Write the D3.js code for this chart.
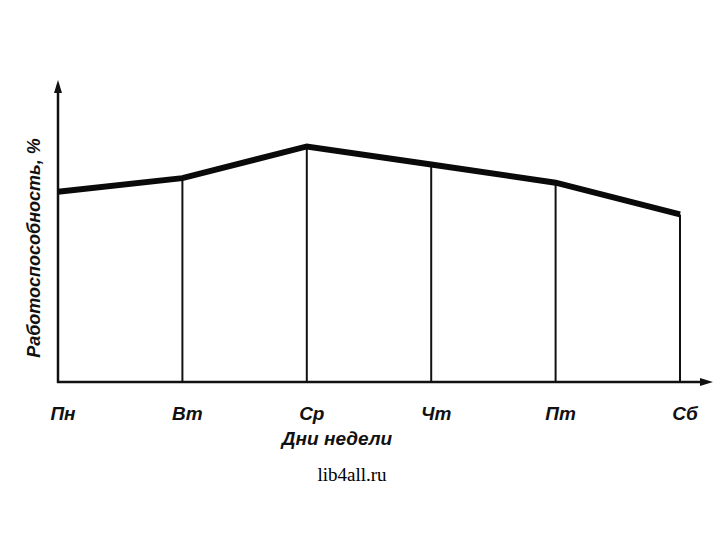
<!DOCTYPE html>
<html><head><meta charset="utf-8">
<script src="https://cdn.jsdelivr.net/npm/d3@7"></script>
<style>body{margin:0;background:#fff}</style>
</head><body>
<script>
const days = ["Пн","Вт","Ср","Чт","Пт","Сб"];
const performance = [63, 67.5, 78, 72, 66, 55.5];
const xTitle = "Дни недели";
const yTitle = "Работоспособность, %";
const watermark = "lib4all.ru";

const W = 720, H = 540;
const svg = d3.select("body").append("svg").attr("width", W).attr("height", H);
const x0 = 58, x1 = 680, yBase = 382, yTop = 80;
const x = d3.scalePoint().domain(days).range([x0, x1]);
const y = d3.scaleLinear().domain([0, 100]).range([yBase, yTop]);
const font = "Liberation Sans, Arial, sans-serif";

// axes
const g = svg.append("g").attr("stroke", "#111").attr("fill", "none");
g.append("line").attr("x1", x0).attr("x2", x0).attr("y1", yBase + 1).attr("y2", yTop + 8).attr("stroke-width", 2.5);
g.append("line").attr("x1", x0 - 1).attr("x2", 704).attr("y1", yBase).attr("y2", yBase).attr("stroke-width", 2.5);
svg.append("path").attr("d", `M${x0},${yTop} L${x0-4},${yTop+13} L${x0+4},${yTop+13} Z`).attr("fill", "#111");
svg.append("path").attr("d", `M713,${yBase} L700,${yBase-4} L700,${yBase+4} Z`).attr("fill", "#111");

// vertical drop lines
svg.append("g").selectAll("line").data(days.slice(1)).join("line")
  .attr("x1", d => x(d)).attr("x2", d => x(d))
  .attr("y1", (d, i) => y(performance[i + 1])).attr("y2", yBase)
  .attr("stroke", "#111").attr("stroke-width", 2);

// main line
const line = d3.line().x((d, i) => x(days[i])).y(d => y(d));
svg.append("path").datum(performance).attr("d", line)
  .attr("fill", "none").attr("stroke", "#0a0a0a").attr("stroke-width", 6)
  .attr("stroke-linejoin", "miter");

// tick labels
svg.append("g").selectAll("text").data(days).join("text")
  .attr("x", d => x(d) + 5).attr("y", 420)
  .attr("text-anchor", "middle")
  .attr("font-family", font).attr("font-weight", "bold")
  .attr("font-style", "italic").attr("font-size", 19).attr("fill", "#111")
  .text(d => d);

svg.append("text").attr("x", 337).attr("y", 445).attr("text-anchor", "middle")
  .attr("font-family", font).attr("font-weight", "bold")
  .attr("font-style", "italic").attr("font-size", 19).attr("fill", "#111")
  .text(xTitle);

svg.append("text").attr("transform", "translate(40,248) rotate(-90)")
  .attr("text-anchor", "middle")
  .attr("font-family", font).attr("font-weight", "bold")
  .attr("font-style", "italic").attr("font-size", 18).attr("fill", "#111")
  .text(yTitle);

svg.append("text").attr("x", 352).attr("y", 481).attr("text-anchor", "middle")
  .attr("font-family", "Liberation Serif, Times New Roman, serif")
  .attr("font-size", 19).attr("fill", "#000")
  .text(watermark);
</script>
</body></html>
